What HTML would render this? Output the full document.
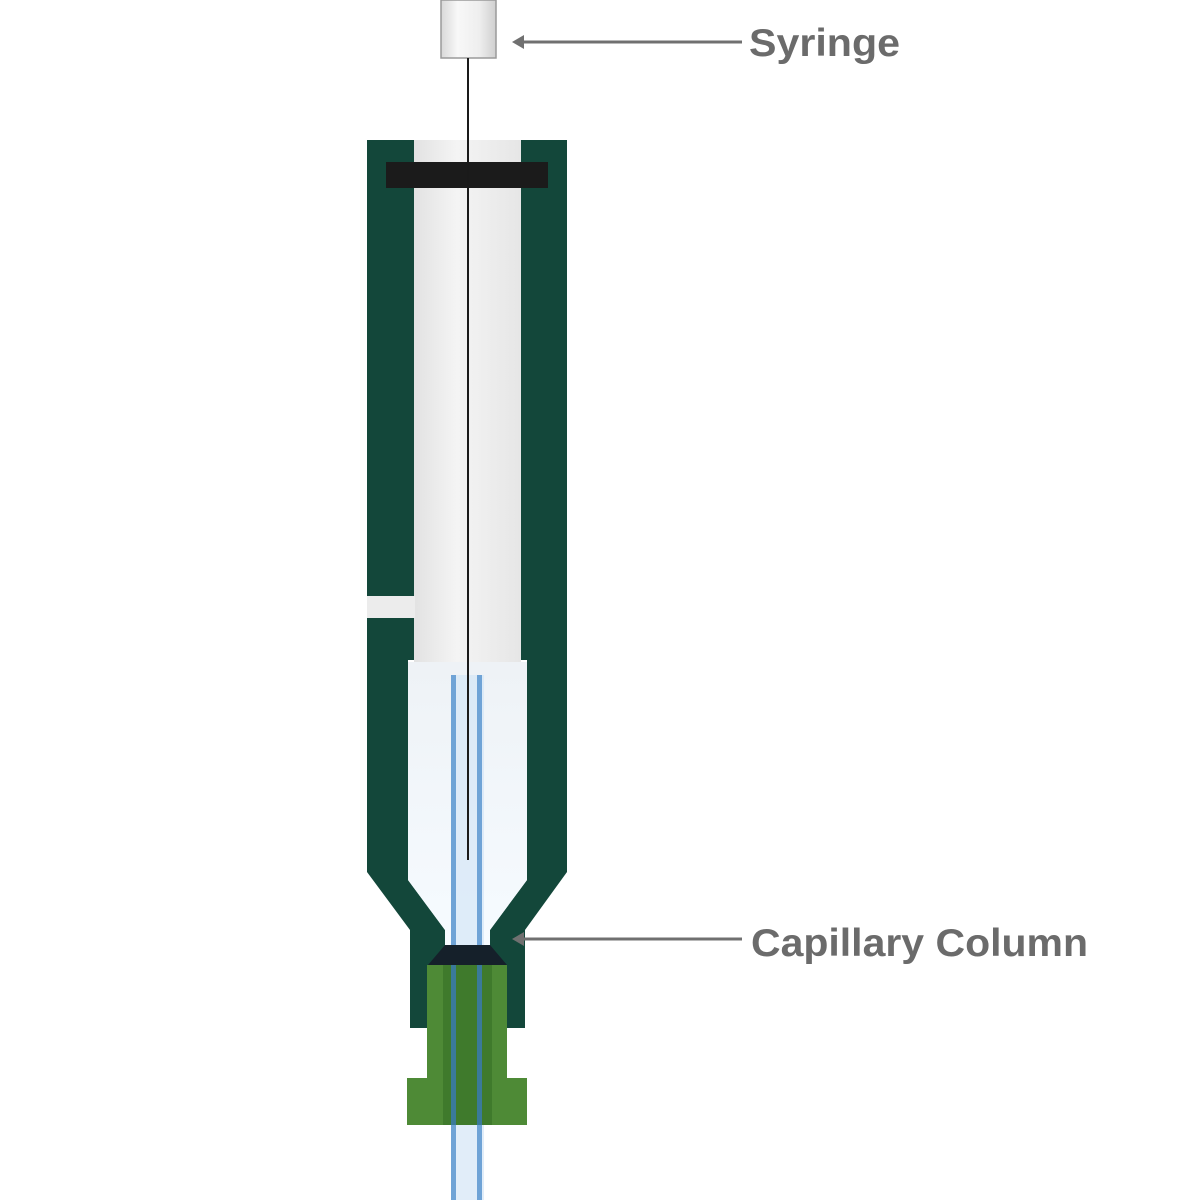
<!DOCTYPE html>
<html><head><style>
body{margin:0;background:#fff;}
svg{display:block;}
text{font-family:"Liberation Sans",sans-serif;font-weight:bold;fill:#6b6b6b;font-size:39px;}
</style></head><body>
<svg width="1200" height="1200" viewBox="0 0 1200 1200" xmlns="http://www.w3.org/2000/svg">
<defs>
<linearGradient id="bar" x1="0" x2="1"><stop offset="0" stop-color="#d8d8d8"/><stop offset="0.3" stop-color="#f8f8f8"/><stop offset="0.7" stop-color="#eeeeee"/><stop offset="1" stop-color="#cfcfcf"/></linearGradient>
<linearGradient id="cav" x1="0" x2="1"><stop offset="0" stop-color="#e2e2e2"/><stop offset="0.4" stop-color="#f4f4f4"/><stop offset="1" stop-color="#e6e6e6"/></linearGradient>
<linearGradient id="low" x1="0" y1="0" x2="0" y2="1"><stop offset="0" stop-color="#eef2f6"/><stop offset="1" stop-color="#f6fbff"/></linearGradient>
</defs>
<rect x="441" y="0" width="55" height="58" fill="url(#bar)" stroke="#9a9a9a" stroke-width="1.5"/>
<path d="M367 140 H414 V660 H408 V880 L445 930 V945 H490 V930 L527 880 V660 H521 V140 H567 V872 L525 930 V1028 H410 V930 L367 872 Z" fill="#13473a"/>
<rect x="414" y="140" width="107" height="522" fill="url(#cav)"/>
<path d="M408 662 H527 V880 L490 930 V945 H445 V930 L408 880 Z" fill="url(#low)"/>
<rect x="367" y="596" width="48" height="22" fill="#ececec"/>
<rect x="386" y="162" width="162" height="26" fill="#1b1b1b"/>
<rect x="451" y="675" width="33" height="525" fill="#d4e6f6" opacity="0.7"/>
<rect x="451" y="675" width="5" height="525" fill="#6fa3d6"/>
<rect x="477" y="675" width="5" height="525" fill="#6fa3d6"/>
<path d="M445 945 H490 L507 965 H428 Z" fill="#15202a"/>
<path d="M427 965 H507 V1078 H527 V1125 H407 V1078 H427 Z" fill="#4e8a36"/>
<rect x="443" y="965" width="49" height="160" fill="#3f7a2c"/>
<rect x="451" y="965" width="5" height="160" fill="#3a7a9a"/>
<rect x="477" y="965" width="5" height="160" fill="#3a7a9a"/>
<line x1="468" y1="58" x2="468" y2="860" stroke="#1a1a1a" stroke-width="2"/>
<line x1="522" y1="42" x2="742" y2="42" stroke="#707070" stroke-width="3"/>
<path d="M512 42 L524 35 L524 49 Z" fill="#707070"/>
<text x="749" y="56" textLength="151" lengthAdjust="spacingAndGlyphs">Syringe</text>
<line x1="522" y1="939" x2="742" y2="939" stroke="#707070" stroke-width="3"/>
<path d="M512 939 L524 932 L524 946 Z" fill="#707070"/>
<text x="751" y="956" textLength="337" lengthAdjust="spacingAndGlyphs">Capillary Column</text>
</svg>
</body></html>
